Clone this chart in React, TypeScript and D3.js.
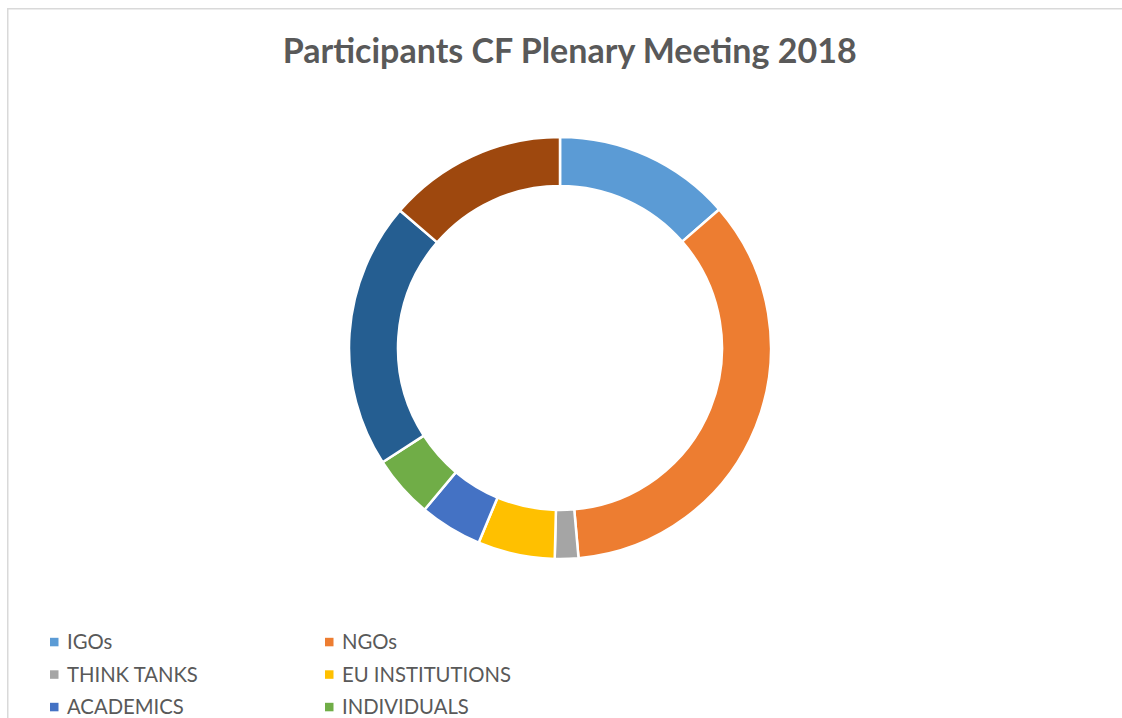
import { useRef, useEffect } from 'react'
import * as d3 from 'd3'

const categories = ['IGOs', 'NGOs', 'THINK TANKS', 'EU INSTITUTIONS', 'ACADEMICS', 'INDIVIDUALS', 'MEMBER STATES', 'OTHERS']
const participants = [13.6, 35.0, 1.8, 5.9, 4.8, 4.8, 20.4, 13.7]
const colors = ['#5b9bd5', '#ed7d31', '#a5a5a5', '#ffc000', '#4472c4', '#70ad47', '#255e91', '#9e480e']
const title = 'Participants CF Plenary Meeting 2018'
// the legend is cut off by the frame after its third row
const visibleLegendItems = 6

const width = 1122
const height = 718

const App = () => {
  const svgRef = useRef<SVGSVGElement>(null)

  useEffect(() => {
    if (!svgRef.current) return
    const svg = d3.select(svgRef.current)
    svg.selectAll('*').remove()

    const font = 'Lato, "Open Sans", sans-serif'

    // chart area border (runs off the right and bottom edges)
    svg.append('rect')
      .attr('x', 7.75)
      .attr('y', 8.75)
      .attr('width', width + 20)
      .attr('height', height + 20)
      .attr('fill', '#fff')
      .attr('stroke', '#d9d9d9')
      .attr('stroke-width', 1.5)

    svg.append('text')
      .attr('x', 569.7)
      .attr('y', 62.5)
      .attr('text-anchor', 'middle')
      .style('font-family', font)
      .style('font-size', '34px')
      .style('font-weight', 'bold')
      .attr('fill', '#595959')
      .text(title)

    const cx = 560
    const cy = 348
    const pie = d3.pie<number>().sort(null).value((d: number) => d)
    const arc = d3.arc<d3.PieArcDatum<number>>().innerRadius(162).outerRadius(211)

    const g = svg.append('g').attr('transform', `translate(${cx},${cy})`)
    g.selectAll('path')
      .data(pie(participants))
      .join('path')
      .attr('d', arc)
      .attr('fill', (_, i) => colors[i])
      .attr('stroke', '#fff')
      .attr('stroke-width', 2.5)
      .attr('stroke-linejoin', 'round')

    // legend, two columns
    const colX = d3.scaleOrdinal<number, number>().domain([0, 1]).range([50, 325])
    const rowY = d3.scaleLinear().domain([0, 1]).range([642, 674.5])
    const legend = svg.append('g')
    categories.slice(0, visibleLegendItems).forEach((name, i) => {
      const x = colX(i % 2)
      const y = rowY(Math.floor(i / 2))
      legend.append('rect')
        .attr('x', x)
        .attr('y', y - 4.2)
        .attr('width', 8.5)
        .attr('height', 8.5)
        .attr('fill', colors[i])
      legend.append('text')
        .attr('x', x + 17)
        .attr('y', y)
        .attr('dy', '0.36em')
        .style('font-family', font)
        .style('font-size', '20.3px')
        .attr('fill', '#595959')
        .text(name)
    })
  }, [])

  return (
    <svg
      ref={svgRef}
      width={width}
      height={height}
      style={{ position: 'absolute', left: 0, top: 0, display: 'block', background: '#fff' }}
    />
  )
}

export default App
